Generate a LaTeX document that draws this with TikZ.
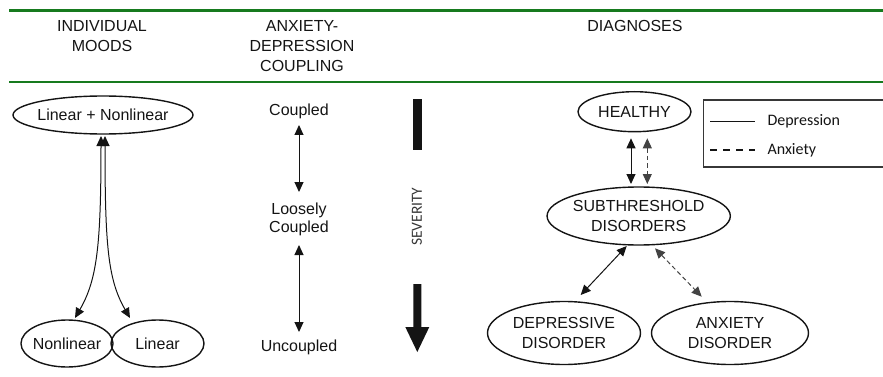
\documentclass[tikz,border=0pt]{standalone}
\usepackage{fontspec}
\setmainfont{Liberation Sans}
\newfontfamily\carlitofont{Carlito}
\usetikzlibrary{shapes.geometric,arrows.meta,calc}
\definecolor{hdrgreen}{RGB}{22,122,30}
\definecolor{ink}{RGB}{20,20,20}
\begin{document}
\begin{tikzpicture}[x=1pt,y=-1pt,
  every node/.style={inner sep=0pt,text=ink,font=\fontsize{16}{19.5}\selectfont},
  hdr/.style={align=center,font=\fontsize{16}{20}\selectfont},
  oval/.style={draw=ink,line width=1.4pt,ellipse,align=center},
  tip/.tip={Triangle[length=10pt,width=9pt]},
  dar/.style={tip-tip,line width=1pt,draw=ink},
  dashar/.style={dar,draw=ink!80,dash pattern=on 4.5pt off 3pt},
  rule/.style={draw=hdrgreen,line width=2.2pt},
  legtext/.style={anchor=west,font=\carlitofont\fontsize{16}{19}\selectfont}]
\clip (0,0) rectangle (883,377);
% header rules
\draw[rule] (9,10.5) -- (890,10.5);
\draw[rule] (9,82) -- (890,82);
% headers
\node[hdr] (h1) at (102,36) {INDIVIDUAL\\MOODS};
\node[hdr] (h2) at (302,46) {ANXIETY-\\DEPRESSION\\COUPLING};
\node[hdr] (h3) at (635,25.7) {DIAGNOSES};
% individual moods
\node[oval,minimum width=180pt,minimum height=38pt,inner xsep=-2pt] (lnl) at (103,115) {Linear + Nonlinear};
\node[oval,minimum width=92pt,minimum height=47pt,inner xsep=-1.7pt] (nl) at (67,343.5) {Nonlinear};
\node[oval,minimum width=93pt,minimum height=47pt] (li) at (157.5,343.5) {Linear};
\draw[dar] ($(lnl.center)+(-2,21)$) .. controls +(0,110) and +(22,-38) .. ($(nl.center)+(8,-25.5)$);
\draw[dar] ($(lnl.center)+(2,21)$) .. controls +(0,110) and +(-22,-38) .. ($(li.center)+(-27.5,-25.5)$);
% coupling
\node (c1) at (299,111.7) {Coupled};
\node[align=center,font=\fontsize{16}{17.6}\selectfont] (c2) at (299,219.4) {Loosely\\Coupled};
\node (c3) at (299,347.7) {Uncoupled};
\draw[dar] ($(c1.center)+(0,13.3)$) -- ($(c2.center)+(0,-27.4)$);
\draw[dar] ($(c2.center)+(0,25.6)$) -- ($(c3.center)+(0,-15.7)$);
% severity
\fill[ink] (413,99) rectangle (421.5,150);
\fill[ink] (413.3,284) -- (421.3,284) -- (421.3,327) -- (429.3,327) -- (417.3,352) -- (405.3,327) -- (413.3,327) -- cycle;
\node[rotate=90,font=\carlitofont\fontsize{15.5}{18}\selectfont,text=ink!85] (sev) at (417,216.7) {SEVERITY};
% diagnoses
\node[oval,minimum width=113pt,minimum height=40pt] (healthy) at (634.5,111.7) {HEALTHY};
\node[oval,minimum width=183pt,minimum height=58pt,inner xsep=-1pt] (sub) at (638.7,216) {SUBTHRESHOLD\\DISORDERS};
\node[oval,minimum width=153pt,minimum height=63pt] (dep) at (564,333) {DEPRESSIVE\\DISORDER};
\node[oval,minimum width=157pt,minimum height=63pt] (anx) at (730,333) {ANXIETY\\DISORDER};
\draw[dar] ($(healthy.center)+(-3.5,26.6)$) -- ($(sub.center)+(-7.7,-32)$);
\draw[dashar] ($(healthy.center)+(12.8,26.6)$) -- ($(sub.center)+(8.6,-32)$);
\draw[dar] ($(sub.center)+(-12,30)$) -- ($(dep.center)+(16.7,-38)$);
\draw[dashar] ($(sub.center)+(16.3,32.3)$) -- ($(anx.center)+(-28.3,-36.3)$);
% legend
\draw[draw=ink!85,line width=1.6pt] (703.3,100) rectangle (895,166.7);
\coordinate (ls1) at (710,121.7);
\coordinate (le1) at (755,121.7);
\coordinate (ls2) at (710,150);
\coordinate (le2) at (755,150);
\draw[ink,line width=1.6pt] (ls1) -- (le1);
\draw[ink,line width=1.6pt,dash pattern=on 7pt off 6pt] (ls2) -- (le2);
\node[legtext] (ldep) at (767.3,121.7) {Depression};
\node[legtext] (lanx) at (767.3,150.5) {Anxiety};
\end{tikzpicture}
\end{document}
